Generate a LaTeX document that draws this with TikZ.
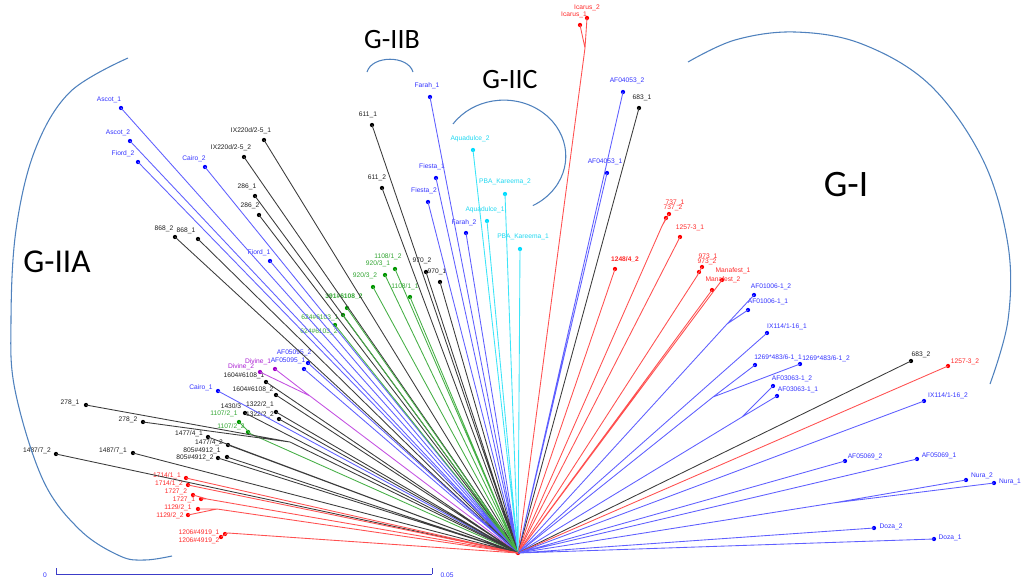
\documentclass[tikz,border=0pt]{standalone}
\usepackage{fontspec}
\setmainfont{Liberation Sans}
\newfontfamily\bigfont{Carlito}
\definecolor{cB}{RGB}{0,0,255}
\definecolor{lB}{RGB}{95,95,255}
\definecolor{tB}{RGB}{50,50,255}
\definecolor{cK}{RGB}{0,0,0}
\definecolor{lK}{RGB}{60,60,60}
\definecolor{tK}{RGB}{30,30,30}
\definecolor{cR}{RGB}{255,0,0}
\definecolor{lR}{RGB}{255,80,80}
\definecolor{tR}{RGB}{255,40,40}
\definecolor{cG}{RGB}{0,150,0}
\definecolor{lG}{RGB}{70,175,70}
\definecolor{tG}{RGB}{50,165,50}
\definecolor{cC}{RGB}{0,220,255}
\definecolor{lC}{RGB}{60,228,248}
\definecolor{tC}{RGB}{30,215,240}
\definecolor{cP}{RGB}{160,0,200}
\definecolor{lP}{RGB}{195,80,225}
\definecolor{tP}{RGB}{170,30,210}
\definecolor{arcc}{RGB}{79,129,189}
\definecolor{sbar}{RGB}{60,60,200}
\tikzset{
  dot/.style={circle,inner sep=0pt,minimum size=3.2pt,draw=none},
  lab/.style={font=\fontsize{5}{6}\selectfont,inner sep=0pt},
  big/.style={font=\bigfont\fontsize{25}{28}\selectfont,inner sep=0pt},
  eB/.style={draw=lB,line width=0.65pt},
  eK/.style={draw=lK,line width=0.65pt},
  eR/.style={draw=lR,line width=0.65pt},
  eG/.style={draw=lG,line width=0.65pt},
  eC/.style={draw=lC,line width=0.65pt},
  eP/.style={draw=lP,line width=0.65pt},
  grp/.style={draw=arcc,line width=0.8pt}
}
% name, x, y, colour letter, label x, label y, text
\newcommand\leaf[7]{\node[dot,fill=c#4] (#1) at (#2,#3) {};\node[lab,text=t#4] (#1l) at (#5,#6) {#7};}
\begin{document}
\begin{tikzpicture}[x=0.75pt,y=-0.75pt]
\useasboundingbox (0,0) rectangle (1024,586);
% root and joints
\node[dot,fill=cR] (R) at (518,553) {};
\coordinate (jIc) at (585,48);
\coordinate (j737) at (662,226);
\coordinate (j973) at (697,276);
\coordinate (jA1) at (727,324);
\coordinate (j69) at (713,397);
\coordinate (jA3) at (742,417);
\coordinate (jNu) at (833,503);
\coordinate (j278) at (290,442);
\coordinate (j1107) at (251,434);
\coordinate (j1727) at (207,499);
\coordinate (j1129) at (217,509);
\coordinate (j1206) at (228,533);
\coordinate (jDiv) at (310,396);
% leaves right
\leaf{ic2}{587}{18}{R}{587}{8}{Icarus\_2}
\leaf{ic1}{580}{25}{R}{574}{15}{Icarus\_1}
\leaf{af4b}{623}{92}{B}{627}{81}{AF04053\_2}
\leaf{k683a}{639}{108}{K}{642}{98}{683\_1}
\leaf{af4a}{607}{173}{B}{605}{162}{AF04053\_1}
\leaf{r737a}{669}{214}{R}{675}{203}{737\_1}
\leaf{r737b}{666}{218}{R}{673}{208}{737\_2}
\leaf{r1257a}{680}{237}{R}{690}{228}{1257-3\_1}
\leaf{r1248}{615}{269}{R}{625}{259}{\bfseries 1248/4\_2}
\leaf{r973a}{702}{267}{R}{708}{257}{973\_1}
\leaf{r973b}{699}{272}{R}{707}{262}{973\_2}
\leaf{rMa}{722}{280}{R}{733}{271}{Manafest\_1}
\leaf{rMb}{712}{290}{R}{723}{280}{Manafest\_2}
\leaf{bA1b}{754}{295}{B}{771}{287}{AF01006-1\_2}
\leaf{bA1a}{748}{310}{B}{768}{302}{AF01006-1\_1}
\leaf{bIXa}{767}{333}{B}{787}{327}{IX114/1-16\_1}
\leaf{b69a}{755}{365}{B}{778}{358}{1269*483/6-1\_1}
\leaf{b69b}{800}{364}{B}{826}{359}{1269*483/6-1\_2}
\leaf{bA3b}{773}{386}{B}{792}{379}{AF03063-1\_2}
\leaf{bA3a}{777}{396}{B}{798}{390}{AF03063-1\_1}
\leaf{k683b}{911}{361}{K}{921}{355}{683\_2}
\leaf{r1257b}{948}{366}{R}{965}{362}{1257-3\_2}
\leaf{bIXb}{924}{401}{B}{948}{396}{IX114/1-16\_2}
\leaf{bA5b}{845}{461}{B}{865}{457}{AF05069\_2}
\leaf{bA5a}{917}{459}{B}{939}{456}{AF05069\_1}
\leaf{bNb}{966}{480}{B}{982}{476}{Nura\_2}
\leaf{bNa}{994}{483}{B}{1010}{482}{Nura\_1}
\leaf{bDb}{874}{528}{B}{891}{527}{Doza\_2}
\leaf{bDa}{934}{539}{B}{950}{538}{Doza\_1}
% leaves left
\leaf{bAsa}{121}{108}{B}{109}{100}{Ascot\_1}
\leaf{bAsb}{130}{141}{B}{118}{133}{Ascot\_2}
\leaf{bFb}{138}{162}{B}{123}{154}{Fiord\_2}
\leaf{bCb}{205}{167}{B}{194}{159}{Cairo\_2}
\leaf{kIXa}{264}{140}{K}{251}{131}{IX220d/2-5\_1}
\leaf{kIXb}{244}{157}{K}{231}{148}{IX220d/2-5\_2}
\leaf{k286a}{255}{196}{K}{247}{187}{286\_1}
\leaf{k286b}{259}{215}{K}{250}{206}{286\_2}
\leaf{k868b}{175}{237}{K}{164}{229}{868\_2}
\leaf{k868a}{198}{239}{K}{186}{231}{868\_1}
\leaf{bFa}{270}{261}{B}{259}{253}{Fiord\_1}
\leaf{bFr1}{430}{97}{B}{427}{86}{Farah\_1}
\leaf{k611a}{372}{125}{K}{368}{115}{611\_1}
\leaf{k611b}{382}{188}{K}{377}{178}{611\_2}
\leaf{bFia}{436}{178}{B}{432}{167}{Fiesta\_1}
\leaf{bFib}{428}{202}{B}{424}{191}{Fiesta\_2}
\leaf{bFr2}{466}{233}{B}{464}{223}{Farah\_2}
\leaf{cAb}{473}{150}{C}{470}{139}{Aquadulce\_2}
\leaf{cPb}{505}{194}{C}{505}{182}{PBA\_Kareema\_2}
\leaf{cAa}{487}{221}{C}{485}{210}{Aquadulce\_1}
\leaf{cPa}{520}{249}{C}{523}{237}{PBA\_Kareema\_1}
\leaf{k970b}{426}{272}{K}{422}{261}{970\_2}
\leaf{k970a}{440}{282}{K}{437}{272}{970\_1}
\leaf{g1108b}{395}{269}{G}{388}{257}{1108/1\_2}
\leaf{g920a}{385}{275}{G}{378}{264}{920/3\_1}
\leaf{g920b}{373}{287}{G}{365}{276}{920/3\_2}
\leaf{g1108a}{410}{297}{G}{405}{287}{1108/1\_1}
\leaf{g391}{347}{308}{G}{344}{297}{\bfseries 391\#6108\_2}
\leaf{g624a}{343}{315}{G}{320}{318}{624\#6103\_1}
\leaf{g624b}{335}{325}{G}{319}{332}{624\#6103\_2}
\leaf{pDa}{275}{369}{P}{258}{362}{Divine\_1}
\leaf{pDb}{260}{372}{P}{241}{367}{Divine\_2}
\leaf{bA95b}{308}{363}{B}{294}{353}{AF05095\_2}
\leaf{bA95a}{304}{369}{B}{288}{361}{AF05095\_1}
\leaf{k1604a}{266}{382}{K}{244}{376}{1604\#6108\_1}
\leaf{k1604b}{276}{395}{K}{253}{390}{1604\#6108\_2}
\leaf{bCa}{218}{391}{B}{201}{388}{Cairo\_1}
\leaf{k1322a}{276}{412}{K}{260}{405}{1322/2\_1}
\leaf{k1322b}{279}{419}{K}{260}{415}{1322/2\_2}
\leaf{k1430}{245}{413}{K}{231}{406}{1430/3}
\leaf{g1107a}{239}{422}{G}{224}{414}{1107/2\_1}
\leaf{g1107b}{248}{432}{G}{231}{427}{1107/2\_2}
\leaf{k278a}{86}{405}{K}{70}{403}{278\_1}
\leaf{k278b}{143}{422}{K}{128}{420}{278\_2}
\leaf{k1477a}{208}{437}{K}{189}{434}{1477/4\_1}
\leaf{k1477b}{228}{445}{K}{209}{443}{1477/4\_2}
\leaf{k805a}{227}{457}{K}{202}{451}{805\#4912\_1}
\leaf{k805b}{218}{458}{K}{195}{458}{805\#4912\_2}
\leaf{k1487b}{56}{454}{K}{37}{451}{1487/7\_2}
\leaf{k1487a}{133}{453}{K}{113}{451}{1487/7\_1}
\leaf{r1714a}{186}{478}{R}{167}{476}{1714/1\_1}
\leaf{r1714b}{188}{485}{R}{169}{484}{1714/1\_2}
\leaf{r1727b}{193}{495}{R}{176}{492}{1727\_2}
\leaf{r1727a}{201}{499}{R}{184}{500}{1727\_1}
\leaf{r1129a}{198}{509}{R}{178}{508}{1129/2\_1}
\leaf{r1129b}{188}{515}{R}{170}{516}{1129/2\_2}
\leaf{r1206a}{225}{534}{R}{199}{533}{1206\#4919\_1}
\leaf{r1206b}{221}{537}{R}{199}{541}{1206\#4919\_2}
% edges
\begin{scope}[on background layer/.try]
\draw[eR] (ic2.center) -- (jIc) (ic1.center) -- (jIc) (jIc) -- (R.center);
\draw[eB] (af4b.center) -- (R.center) (af4a.center) -- (R.center);
\draw[eK] (k683a.center) -- (R.center);
\draw[eR] (r737a.center) -- (j737) (r737b.center) -- (j737) (j737) -- (R.center);
\draw[eR] (r1257a.center) -- (R.center) (r1248.center) -- (R.center);
\draw[eR] (r973a.center) -- (j973) (r973b.center) -- (j973) (j973) -- (R.center);
\draw[eR] (rMa.center) -- (R.center) (rMb.center) -- (R.center);
\draw[eB] (bA1b.center) -- (jA1) (bA1a.center) -- (jA1) (jA1) -- (R.center);
\draw[eB] (bIXa.center) -- (R.center);
\draw[eB] (b69a.center) -- (j69) (b69b.center) -- (j69) (j69) -- (R.center);
\draw[eB] (bA3b.center) -- (jA3) (bA3a.center) -- (jA3) (jA3) -- (R.center);
\draw[eK] (k683b.center) -- (R.center);
\draw[eR] (r1257b.center) -- (R.center);
\draw[eB] (bIXb.center) -- (R.center) (bA5b.center) -- (R.center) (bA5a.center) -- (R.center);
\draw[eB] (bNb.center) -- (jNu) (bNa.center) -- (jNu) (jNu) -- (R.center);
\draw[eB] (bDb.center) -- (R.center) (bDa.center) -- (R.center);
\draw[eB] (bAsa.center) -- (R.center) (bAsb.center) -- (R.center) (bFb.center) -- (R.center) (bCb.center) -- (R.center) (bFa.center) -- (R.center);
\draw[eK] (kIXa.center) -- (R.center) (kIXb.center) -- (R.center) (k286a.center) -- (R.center) (k286b.center) -- (R.center) (k868a.center) -- (R.center) (k868b.center) -- (R.center);
\draw[eB] (bFr1.center) -- (R.center) (bFia.center) -- (R.center) (bFib.center) -- (R.center) (bFr2.center) -- (R.center);
\draw[eK] (k611a.center) -- (R.center) (k611b.center) -- (R.center) (k970a.center) -- (R.center) (k970b.center) -- (R.center);
\draw[eC] (cAb.center) -- (R.center) (cPb.center) -- (R.center) (cAa.center) -- (R.center) (cPa.center) -- (R.center);
\draw[eG] (g1108b.center) -- (R.center) (g920a.center) -- (R.center) (g920b.center) -- (R.center) (g1108a.center) -- (R.center) (g391.center) -- (R.center) (g624a.center) -- (R.center) (g624b.center) -- (R.center);
\draw[eP] (pDa.center) -- (jDiv) (pDb.center) -- (jDiv) (jDiv) -- (R.center);
\draw[eB] (bA95b.center) -- (R.center) (bA95a.center) -- (R.center) (bCa.center) -- (R.center);
\draw[eK] (k1604a.center) -- (R.center) (k1604b.center) -- (R.center) (k1322a.center) -- (R.center) (k1322b.center) -- (R.center) (k1430.center) -- (R.center);
\draw[eG] (g1107a.center) -- (j1107) (g1107b.center) -- (j1107) (j1107) -- (R.center);
\draw[eK] (k278a.center) -- (j278) (k278b.center) -- (j278) (j278) -- (R.center);
\draw[eK] (k1477a.center) -- (R.center) (k1477b.center) -- (R.center) (k805a.center) -- (R.center) (k805b.center) -- (R.center) (k1487a.center) -- (R.center) (k1487b.center) -- (R.center);
\draw[eR] (r1714a.center) -- (R.center) (r1714b.center) -- (R.center);
\draw[eR] (r1727a.center) -- (j1727) (r1727b.center) -- (j1727) (j1727) -- (R.center);
\draw[eR] (r1129a.center) -- (j1129) (r1129b.center) -- (j1129) (j1129) -- (R.center);
\draw[eR] (r1206a.center) -- (j1206) (r1206b.center) -- (j1206) (j1206) -- (R.center);
\end{scope}
% group labels and arcs
\node[big] (gIIA) at (57,262) {G-IIA};
\node[big,font=\bigfont\fontsize{21}{24}\selectfont] (gIIB) at (392,40) {G-IIB};
\node[big,font=\bigfont\fontsize{21}{24}\selectfont] (gIIC) at (510,80) {G-IIC};
\node[big,font=\bigfont\fontsize{28}{30}\selectfont] (gI) at (846,185) {G-I};
\draw[grp] plot[smooth,tension=0.6] coordinates {(128,58) (70,92) (35,150) (16,230) (11,320) (15,390) (43,480) (80,530) (120,556) (145,560) (172,556)};
\draw[grp] (367,72) .. controls (372,55) and (408,55) .. (413,72);
\draw[grp] (453,124) arc[start angle=-145,end angle=62,x radius=62,y radius=56];
\draw[grp] plot[smooth,tension=0.6] coordinates {(688,62) (735,40) (795,32) (862,44) (930,85) (983,160) (1008,245) (1008,320) (990,384)};
% scale bar
\coordinate (s0) at (56,574);
\coordinate (s1) at (432,574);
\draw[sbar,line width=0.6pt] (s0) -- (s1) (s0) -- ++(0,-6) (s1) -- ++(0,-6);
\node[lab,text=tB] (sl0) at (45,575) {0};
\node[lab,text=tB] (sl1) at (447,575) {0.05};
\end{tikzpicture}
\end{document}
